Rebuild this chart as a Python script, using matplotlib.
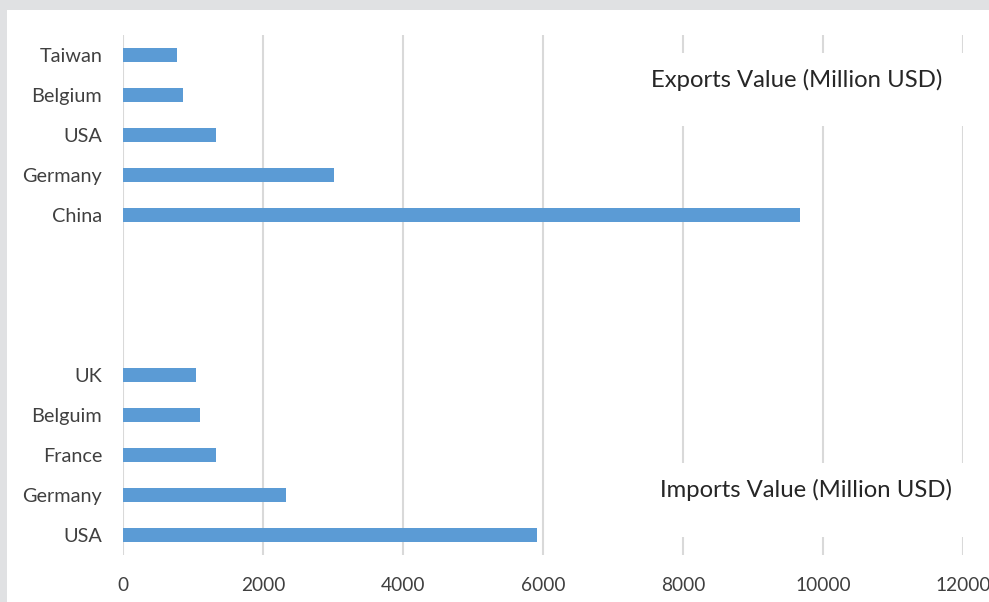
import matplotlib
matplotlib.use("Agg")
import matplotlib.pyplot as plt
from matplotlib.patches import Rectangle

export_countries = ["Taiwan", "Belgium", "USA", "Germany", "China"]
export_values = [770, 860, 1330, 3010, 9670]
import_countries = ["UK", "Belguim", "France", "Germany", "USA"]
import_values = [1040, 1100, 1330, 2330, 5910]
gap_slots = 3
x_ticks = [0, 2000, 4000, 6000, 8000, 10000, 12000]
export_title = "Exports Value (Million USD)"
import_title = "Imports Value (Million USD)"

W, H = 989, 602
plt.rcParams['font.family'] = ['Lato', 'DejaVu Sans']
fig = plt.figure(figsize=(W / 100, H / 100), dpi=100)
fig.patch.set_facecolor('#e0e1e3')
bg = Rectangle((7 / W, 0), 1, 1 - 10 / H, transform=fig.transFigure,
               facecolor='white', edgecolor='none', zorder=-10)
fig.add_artist(bg)

ax = fig.add_axes([123 / W, 1 - 555 / H, (963 - 123) / W, (555 - 35) / H])
ax.set_facecolor('none')
ax.set_zorder(1)

labels = export_countries + [""] * gap_slots + import_countries
values = export_values + [None] * gap_slots + import_values
ys = list(range(len(labels)))
bar_y = [y for y, v in zip(ys, values) if v is not None]
bar_v = [v for v in values if v is not None]
ax.barh(bar_y, bar_v, height=0.35, color='#5B9BD5', zorder=2)

ax.set_ylim(len(labels) - 0.5, -0.5)
ax.set_xlim(0, 12000)
ax.set_xticks(x_ticks)
ax.set_yticks(ys)
ax.set_yticklabels(labels)
for s in ax.spines.values():
    s.set_visible(False)
ax.tick_params(axis='both', length=0, labelcolor='#404040')
ax.tick_params(axis='y', pad=15, labelsize=14.3)
ax.tick_params(axis='x', pad=16, labelsize=13.8)
ax.xaxis.grid(True, color='#d9d9d9', linewidth=1.5, zorder=1)
ax.set_axisbelow(True)

# white text boxes (cover gridlines like the source's text boxes)
ax.add_patch(Rectangle((7400, -0.05), 4900, 1.83, facecolor='white', edgecolor='none',
                       zorder=2.5, clip_on=False))
ax.add_patch(Rectangle((7400, 10.2), 4900, 1.85, facecolor='white', edgecolor='none',
                       zorder=2.5, clip_on=False))

ax.text(9630, 0.625, export_title, ha='center', va='center', fontsize=17.2, color='#262626', zorder=3)
ax.text(9760, 10.875, import_title, ha='center', va='center', fontsize=17.2, color='#262626', zorder=3)

fig.savefig('out.png', dpi=100, facecolor=fig.get_facecolor())
